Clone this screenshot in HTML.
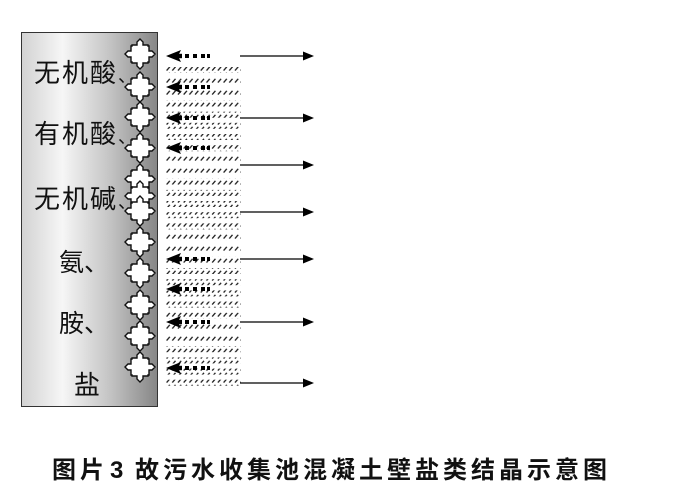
<!DOCTYPE html>
<html>
<head>
<meta charset="utf-8">
<style>
  html,body{margin:0;padding:0;background:#fff;}
  body{width:684px;height:492px;overflow:hidden;}
  svg{display:block;}
  .lbl{font-family:"Liberation Sans","Noto Sans CJK SC",sans-serif;fill:#111;}
  .cap{font-family:"Liberation Sans","Noto Sans CJK SC",sans-serif;font-weight:bold;fill:#111;font-size:24px;}
</style>
</head>
<body>
<svg width="684" height="492" viewBox="0 0 684 492" xmlns="http://www.w3.org/2000/svg">
  <defs>
    <linearGradient id="g" x1="0" x2="1" y1="0" y2="0">
      <stop offset="0" stop-color="#d2d2d2"/>
      <stop offset="0.3" stop-color="#f6f6f6"/>
      <stop offset="0.65" stop-color="#c4c4c4"/>
      <stop offset="1" stop-color="#868686"/>
    </linearGradient>
    <pattern id="h" x="166" y="0" width="5.7" height="6" patternUnits="userSpaceOnUse">
      <line x1="0.6" y1="4.6" x2="3.8" y2="0.8" stroke="#222" stroke-width="1.3"/>
    </pattern>
    <polygon id="cr" points="-3,-12 0,-15 3,-12 3,-9 8,-9 8,-8 9,-8 9,-3 12,-3 15,0 12,3 9,3 9,8 8,8 8,9 3,9 3,12 0,15 -3,12 -3,9 -8,9 -8,8 -9,8 -9,3 -12,3 -15,0 -12,-3 -9,-3 -9,-8 -8,-8 -8,-9 -3,-9" fill="#fff" stroke="#111" stroke-width="1.4"/>
    <g id="la">
      <polygon points="166,0 181,-6 178,0 181,6" fill="#000"/>
      <rect x="176" y="-2.2" width="6" height="4.4" fill="#000"/>
      <rect x="185" y="-2" width="4" height="4" fill="#000"/>
      <rect x="193" y="-2" width="4" height="4" fill="#000"/>
      <rect x="201" y="-2" width="4" height="4" fill="#000"/>
      <rect x="207" y="-2" width="3" height="4" fill="#000"/>
    </g>
    <g id="ra">
      <line x1="240" y1="0" x2="305" y2="0" stroke="#000" stroke-width="1.2"/>
      <polygon points="303,-4.5 314,0 303,4.5" fill="#000"/>
    </g>
  </defs>

  <!-- wall -->
  <rect x="21.5" y="32.5" width="136" height="374" fill="url(#g)" stroke="#333" stroke-width="1"/>

  <!-- labels -->
  <text class="lbl" x="34" y="82" font-size="26" letter-spacing="2">无机酸<tspan font-size="18">、</tspan></text>
  <text class="lbl" x="34" y="143" font-size="26" letter-spacing="2">有机酸<tspan font-size="18">、</tspan></text>
  <text class="lbl" x="34" y="208" font-size="26" letter-spacing="2">无机碱<tspan font-size="18">、</tspan></text>
  <text class="lbl" x="59" y="271" font-size="25">氨、</text>
  <text class="lbl" x="59" y="332" font-size="25">胺、</text>
  <text class="lbl" x="74" y="394" font-size="26">盐</text>

  <!-- crosses -->
  <use href="#cr" x="140" y="54"/>
  <use href="#cr" x="140" y="87"/>
  <use href="#cr" x="140" y="117"/>
  <use href="#cr" x="140" y="148"/>
  <use href="#cr" x="140" y="179"/>
  <use href="#cr" x="140" y="196"/>
  <use href="#cr" x="140" y="211"/>
  <use href="#cr" x="140" y="242"/>
  <use href="#cr" x="140" y="273"/>
  <use href="#cr" x="140" y="305"/>
  <use href="#cr" x="140" y="336"/>
  <use href="#cr" x="140" y="367"/>

  <!-- hatch rows -->
  <g fill="url(#h)">
    <rect x="166" y="67" width="75" height="6"/>
    <rect x="166" y="78.2" width="75" height="6"/>
    <rect x="166" y="89.3" width="75" height="6"/>
    <rect x="166" y="100.5" width="75" height="6"/>
    <rect x="166" y="111.7" width="75" height="6"/>
    <rect x="166" y="122.8" width="75" height="6"/>
    <rect x="166" y="134" width="75" height="6"/>
    <rect x="166" y="145.2" width="75" height="6"/>
    <rect x="166" y="156.4" width="75" height="6"/>
    <rect x="166" y="167.5" width="75" height="6"/>
    <rect x="166" y="178.7" width="75" height="6"/>
    <rect x="166" y="189.9" width="75" height="6"/>
    <rect x="166" y="201" width="75" height="6"/>
    <rect x="166" y="212.2" width="75" height="6"/>
    <rect x="166" y="223.4" width="75" height="6"/>
    <rect x="166" y="234.5" width="75" height="6"/>
    <rect x="166" y="245.7" width="75" height="6"/>
    <rect x="166" y="256.9" width="75" height="6"/>
    <rect x="166" y="268" width="75" height="6"/>
    <rect x="166" y="279.2" width="75" height="6"/>
    <rect x="166" y="290.4" width="75" height="6"/>
    <rect x="166" y="301.6" width="75" height="6"/>
    <rect x="166" y="312.7" width="75" height="6"/>
    <rect x="166" y="323.9" width="75" height="6"/>
    <rect x="166" y="335.1" width="75" height="6"/>
    <rect x="166" y="346.2" width="75" height="6"/>
    <rect x="166" y="357.4" width="75" height="6"/>
    <rect x="166" y="368.6" width="75" height="6"/>
    <rect x="166" y="379.7" width="75" height="6"/>
  </g>

  <!-- left (dotted) arrows -->
  <use href="#la" y="56"/>
  <use href="#la" y="87"/>
  <use href="#la" y="118"/>
  <use href="#la" y="148"/>
  <use href="#la" y="259"/>
  <use href="#la" y="289"/>
  <use href="#la" y="322"/>
  <use href="#la" y="368"/>

  <!-- right (solid) arrows -->
  <use href="#ra" y="56"/>
  <use href="#ra" y="118"/>
  <use href="#ra" y="165"/>
  <use href="#ra" y="212"/>
  <use href="#ra" y="259"/>
  <use href="#ra" y="322"/>
  <use href="#ra" y="383"/>

  <!-- caption -->
  <text class="cap" x="52" y="478" letter-spacing="4">图片</text>
  <text class="cap" x="110" y="478" font-family="Liberation Sans, sans-serif">3</text>
  <text class="cap" x="135" y="478" letter-spacing="4">故污水收集池混凝土壁盐类结晶示意图</text>
</svg>
</body>
</html>
